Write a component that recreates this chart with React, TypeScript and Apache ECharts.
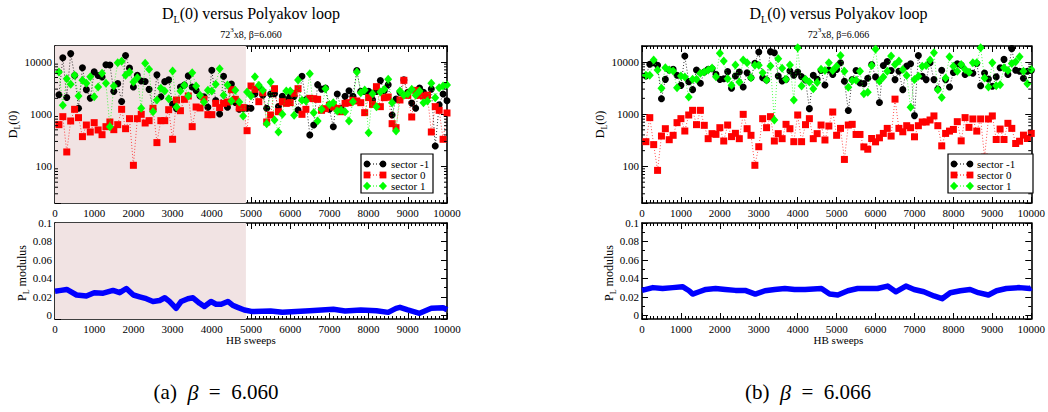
import React, { useEffect, useRef } from "react";
import * as echarts from "echarts";

// ---------- data ----------
const SWEEPS: number[] = Array.from({ length: 100 }, (_, i) => (i + 1) * 100);

// beta = 6.060
const SECTOR_M1_A = [
  2340, 11900, 2080, 14300, 5450, 1290, 7660, 2930, 2020, 6400,
  5450, 5100, 8750, 8650, 2720, 3820, 1740, 13200, 7550, 3300,
  5530, 4300, 4200, 2970, 1240, 5620, 2140, 4170, 4500, 1550,
  1260, 3300, 3600, 5370, 3300, 2840, 2210, 2140, 1350, 6900,
  1820, 1000, 5300, 1350, 3770, 1670, 1240, 1280, 1300, 1290,
  2420, 3300, 2300, 1290, 2420, 2440, 1400, 2180, 1880, 2180,
  2180, 1200, 5300, 1880, 400, 620, 3650, 3000, 3150, 1240,
  574, 2420, 1290, 2180, 2800, 2180, 6800, 2720, 2720, 2720,
  1880, 2720, 4360, 2800, 3650, 960, 1930, 2600, 4500, 2600,
  1620, 1290, 3150, 2600, 2180, 3000, 245, 1500, 2420, 1800,
];
const SECTOR_0_A = [
  628, 893, 189, 738, 1233, 855, 371, 618, 455, 686,
  497, 404, 575, 706, 504, 628, 1233, 526, 818, 105,
  818, 989, 676, 749, 1288, 285, 749, 749, 1214, 330,
  1858, 1161, 1914, 2217, 575, 1366, 1310, 1914, 975, 975,
  1604, 1330, 1604, 1700, 2930, 1914, 1310, 1330, 482, 3440,
  2970, 1727, 2570, 706, 961, 3060, 1110, 1727, 1604, 1652,
  2490, 3060, 989, 1233, 2000, 1970, 1914, 1180, 1270, 1470,
  1366, 1288, 1110, 1604, 1652, 1833, 1780, 1652, 1065, 2060,
  1530, 3340, 1387, 2060, 2120, 656, 551, 1860, 4420, 2280,
  880, 2840, 2280, 2210, 2300, 455, 1387, 1180, 330, 1050,
];
const SECTOR_1_A = [
  6370, 1470, 4750, 3700, 5510, 2220, 4420, 3870, 5190, 2150,
  3300, 6010, 3870, 575, 3440, 9600, 10200, 5510, 6370, 4100,
  4960, 1288, 9330, 7160, 1110, 1858, 3110, 2760, 1970, 6650,
  1366, 2760, 3540, 2220, 6180, 3440, 2300, 1700, 2840, 2760,
  3700, 7380, 2280, 3600, 1780, 2840, 1700, 918, 2640, 2220,
  5190, 3540, 2840, 656, 4100, 771, 455, 989, 2760, 2760,
  946, 4480, 1833, 1780, 5920, 1065, 738, 1233, 3060, 1530,
  1652, 1145, 1180, 1110, 738, 1727, 6370, 2570, 2880, 442,
  2460, 1387, 2640, 2970, 4610, 1652, 475, 2760, 2300, 2460,
  2970, 2280, 2760, 1652, 1780, 3870, 2060, 3200, 3440, 3600,
];
const PL_SWEEPS_A = [0, 150, 300, 550, 800, 1000, 1230, 1480, 1650, 1820, 2000, 2160, 2330, 2500, 2670, 2800, 2920, 3090, 3220, 3390, 3520, 3690, 3810, 3980, 4110, 4240, 4410, 4530, 4660, 4830, 5040, 5500, 5800, 6500, 7100, 7400, 7800, 8200, 8500, 8700, 8800, 9000, 9300, 9600, 9900, 10000];
const PL_MOD_A = [0.026, 0.027, 0.028, 0.022, 0.021, 0.0245, 0.024, 0.027, 0.0245, 0.029, 0.022, 0.02, 0.018, 0.015, 0.016, 0.019, 0.015, 0.0075, 0.015, 0.018, 0.019, 0.013, 0.0095, 0.015, 0.012, 0.012, 0.015, 0.011, 0.0086, 0.0058, 0.004, 0.0047, 0.0032, 0.005, 0.0065, 0.0047, 0.0058, 0.005, 0.0032, 0.0075, 0.0086, 0.0058, 0.0022, 0.0076, 0.0083, 0.006];

// beta = 6.066
const SECTOR_M1_B = [
  5340, 8930, 9600, 8550, 1970, 4610, 6950, 7160, 5510, 3540,
  12900, 4170, 2930, 6950, 3870, 6370, 7160, 7380, 5750, 4610,
  4750, 6470, 3110, 5340, 6370, 3300, 6180, 4960, 9330, 15350,
  4960, 4480, 15600, 14900, 5340, 4290, 4610, 6650, 5510, 6370,
  5190, 4480, 1270, 5510, 4610, 6830, 3600, 6950, 5700, 7110,
  9570, 4240, 1170, 4560, 6810, 3940, 3820, 4840, 8890, 5140,
  1670, 8490, 10100, 6810, 4560, 6600, 2930, 8250, 9150, 935,
  13200, 5290, 4560, 9570, 4560, 3010, 6900, 4560, 3300, 6220,
  9150, 8620, 5700, 6320, 6040, 9290, 3490, 6120, 4700, 3400,
  5140, 7660, 11100, 5700, 17800, 6900, 6600, 4840, 6600, 6810,
];
const SECTOR_0_B = [
  297, 855, 261, 84, 381, 526, 324, 393, 686, 818,
  475, 961, 1180, 628, 1180, 610, 339, 423, 410, 550,
  306, 618, 371, 429, 339, 989, 526, 393, 105, 238,
  818, 550, 893, 306, 423, 339, 637, 526, 297, 961,
  297, 628, 818, 339, 423, 618, 320, 592, 1096, 393,
  533, 136, 618, 637, 408, 408, 236, 213, 342, 295,
  352, 427, 533, 380, 1930, 533, 459, 600, 549, 368,
  600, 706, 706, 771, 922, 600, 247, 427, 473, 509,
  716, 308, 856, 557, 807, 473, 807, 150, 807, 922,
  327, 518, 327, 666, 533, 274, 303, 396, 342, 427,
];
const SECTOR_1_B = [
  5510, 5510, 10800, 6950, 3110, 7700, 6950, 6650, 3200, 5340,
  5120, 2120, 4610, 4610, 6010, 6370, 6950, 7600, 5190, 14500,
  10300, 4750, 3540, 8670, 4100, 10800, 9600, 4960, 8550, 8550,
  6180, 4480, 8300, 771, 11450, 7490, 4610, 8670, 1860, 18600,
  3440, 4610, 4100, 3060, 4010, 7160, 6830, 9600, 6830, 8250,
  13200, 6600, 3240, 4370, 4430, 6600, 2450, 2600, 8490, 17300,
  4240, 5140, 6600, 12900, 8890, 10300, 7110, 5450, 1355, 4560,
  5290, 8250, 8490, 10800, 14900, 2930, 2080, 4900, 12500, 8250,
  6600, 8890, 7110, 6320, 9570, 9570, 18600, 4900, 3300, 9570,
  3490, 3650, 7660, 6810, 9290, 10000, 12500, 6600, 3820, 7110,
];
const PL_SWEEPS_B = [0, 280, 530, 790, 1040, 1210, 1300, 1470, 1640, 1890, 2140, 2400, 2650, 2910, 3160, 3410, 3670, 3920, 4190, 4610, 4820, 5030, 5290, 5540, 5800, 6050, 6310, 6520, 6780, 6990, 7240, 7500, 7710, 7920, 8180, 8430, 8640, 8900, 9110, 9360, 9700, 9960, 10000];
const PL_MOD_B = [0.027, 0.03, 0.029, 0.03, 0.031, 0.0266, 0.023, 0.0255, 0.028, 0.029, 0.028, 0.027, 0.027, 0.023, 0.0266, 0.028, 0.029, 0.028, 0.028, 0.029, 0.023, 0.022, 0.0266, 0.029, 0.029, 0.029, 0.0317, 0.0255, 0.0317, 0.028, 0.0255, 0.021, 0.018, 0.0245, 0.0266, 0.028, 0.0245, 0.022, 0.0266, 0.029, 0.03, 0.029, 0.03];

const THERMALIZATION_END_A = 4870;
const LOG_MINOR_TICKS = [30, 40, 50, 60, 70, 80, 90, 200, 300, 400, 500, 600, 700, 800, 900, 2000, 3000, 4000, 5000, 6000, 7000, 8000, 9000];
const SERIES_NAMES = ["sector -1", "sector 0", "sector 1"];
const TITLES = ["72{sup|3}x8, \u03b2=6.060", "72{sup|3}x8, \u03b2=6.066"];
const CAPTIONS = ["(a)  {it|\u03b2}  =  6.060", "(b)  {it|\u03b2}  =  6.066"];

// ---------- layout ----------
const FONT = "Liberation Serif";
const TOP_Y = 46, TOP_H = 157, BOT_Y = 223, BOT_H = 96;
const SHADE = "#f1e3e3";
const PANELS = [
  { left: 55, width: 392, shadeEnd: THERMALIZATION_END_A, black: SECTOR_M1_A, red: SECTOR_0_A, green: SECTOR_1_A, plx: PL_SWEEPS_A, ply: PL_MOD_A, capX: 216, legend: { x: 361, w: 72, sym1: 367, sym2: 383, text: 391 } },
  { left: 642, width: 393, shadeEnd: 0, black: SECTOR_M1_B, red: SECTOR_0_B, green: SECTOR_1_B, plx: PL_SWEEPS_B, ply: PL_MOD_B, capX: 808, legend: { x: 948, w: 85, sym1: 954, sym2: 970, text: 977 } },
];
const COLORS = ["#000000", "#ff0000", "#00ff00"];

function buildOption() {
  const grid: any[] = [];
  const xAxis: any[] = [];
  const yAxis: any[] = [];
  const series: any[] = [];
  const graphic: any[] = [];

  const axisLine = { show: true, onZero: false, lineStyle: { color: "#000", width: 1.6 } };
  const tickStyle = { color: "#000", width: 1 };
  const labelStyle = { fontFamily: FONT, fontSize: 11, color: "#000" };

  PANELS.forEach((p, pi) => {
    const gTop = pi * 2;
    const gBot = pi * 2 + 1;
    grid.push({ left: p.left, top: TOP_Y, width: p.width, height: TOP_H });
    grid.push({ left: p.left, top: BOT_Y, width: p.width, height: BOT_H });

    [gTop, gBot].forEach((g) => {
      const xBase = {
        type: "value", gridIndex: g, min: 0, max: 10000, interval: 1000,
        axisLine, splitLine: { show: false },
        axisTick: { show: true, inside: true, length: 6, lineStyle: tickStyle },
        minorTick: { show: true, splitNumber: 10, length: 3, lineStyle: tickStyle },
      };
      xAxis.push({ ...xBase, position: "bottom", axisLabel: { ...labelStyle, margin: 4, formatter: (v: number) => String(Math.round(v)) } });
      xAxis.push({ ...xBase, position: "top", axisLabel: { show: false } });
    });

    // log axis (top grid)
    const logBase = {
      type: "log", logBase: 10, gridIndex: gTop, min: 20, max: 20000,
      axisLine, splitLine: { show: false },
      axisTick: { show: true, inside: true, length: 6, lineStyle: tickStyle },
      minorTick: { show: false },
    };
    yAxis.push({
      ...logBase, position: "left",
      axisLabel: {
        ...labelStyle, margin: 3,
        formatter: (v: number) => {
          const l = Math.log10(v);
          return Math.abs(l - Math.round(l)) < 1e-6 && v > 50 && v < 15000 ? String(Math.round(v)) : "";
        },
      },
    });
    yAxis.push({ ...logBase, position: "right", axisLabel: { show: false } });

    // P_L axis (bottom grid)
    const plBase = {
      type: "value", gridIndex: gBot, min: -0.004, max: 0.1, splitNumber: 5,
      axisLine, splitLine: { show: false },
      axisTick: { show: true, inside: true, length: 6, lineStyle: tickStyle },
      minorTick: { show: true, splitNumber: 2, length: 3, lineStyle: tickStyle },
    };
    yAxis.push({
      ...plBase, position: "left",
      axisLabel: {
        ...labelStyle, margin: 3,
        formatter: (v: number) => (v < -1e-9 ? "" : String(+v.toFixed(3))),
      },
    });
    yAxis.push({ ...plBase, position: "right", axisLabel: { show: false } });

    const xi = gTop * 2, yi = gTop * 2;
    const sets = [p.black, p.red, p.green];
    const symbols = ["circle", "rect", "diamond"];
    const sizes: any[] = [7, 7, [8, 9]];
    sets.forEach((arr, si) => {
      const s: any = {
        type: "line", name: SERIES_NAMES[si], xAxisIndex: xi, yAxisIndex: yi,
        data: SWEEPS.map((x, i) => [x, arr[i]]),
        symbol: symbols[si], symbolSize: sizes[si], showSymbol: true,
        itemStyle: { color: COLORS[si] },
        lineStyle: { color: COLORS[si], width: 1, type: [1, 2], opacity: si === 0 ? 0.8 : 0.7 },
        z: 3 + si,
      };
      if (si === 0 && p.shadeEnd > 0) {
        s.markArea = { silent: true, z: 1, itemStyle: { color: SHADE }, data: [[{ xAxis: 0 }, { xAxis: p.shadeEnd }]] };
      }
      series.push(s);
    });

    // log minor ticks on left and right edges
    series.push({
      type: "custom", xAxisIndex: xi, yAxisIndex: yi, silent: true, clip: false, z: 10,
      data: LOG_MINOR_TICKS.map((v) => [0, v]),
      encode: { x: 0, y: 1 },
      renderItem: (params: any, api: any) => {
        const y = api.coord([0, api.value(1)])[1];
        const cs = params.coordSys;
        return {
          type: "group",
          children: [
            { type: "line", shape: { x1: cs.x, y1: y, x2: cs.x + 3, y2: y }, style: { stroke: "#000", lineWidth: 1 } },
            { type: "line", shape: { x1: cs.x + cs.width, y1: y, x2: cs.x + cs.width - 3, y2: y }, style: { stroke: "#000", lineWidth: 1 } },
          ],
        };
      },
    });

    // Polyakov loop modulus
    const pl: any = {
      type: "line", name: "P_L modulus", xAxisIndex: gBot * 2, yAxisIndex: gBot * 2,
      data: p.plx.map((x, i) => [x, p.ply[i]]),
      showSymbol: false, symbol: "none",
      lineStyle: { color: "#0000ff", width: 5.5, join: "round" },
      z: 3,
    };
    if (p.shadeEnd > 0) {
      pl.markArea = { silent: true, z: 1, itemStyle: { color: SHADE }, data: [[{ xAxis: 0 }, { xAxis: p.shadeEnd }]] };
    }
    series.push(pl);

    // ---- texts ----
    const cx = p.left + p.width / 2;
    graphic.push({
      type: "text", x: cx, y: 13,
      style: {
        text: "D{sub|L}(0) versus Polyakov loop", fontFamily: FONT, fontSize: 16, fill: "#000",
        align: "center", verticalAlign: "middle",
        rich: { sub: { fontFamily: FONT, fontSize: 10, padding: [12, 0, 0, 0] } },
      },
    });
    graphic.push({
      type: "text", x: cx, y: 34,
      style: {
        text: TITLES[pi], fontFamily: FONT, fontSize: 10, fill: "#000",
        align: "center", verticalAlign: "middle",
        rich: { sup: { fontFamily: FONT, fontSize: 7, padding: [0, 0, 8, 0] } },
      },
    });
    graphic.push({
      type: "text", x: p.left - 42, y: TOP_Y + TOP_H / 2, rotation: Math.PI / 2,
      style: {
        text: "D{sub|L}(0)", fontFamily: FONT, fontSize: 12, fill: "#000",
        align: "center", verticalAlign: "middle",
        rich: { sub: { fontFamily: FONT, fontSize: 8, padding: [8, 0, 0, 0] } },
      },
    });
    graphic.push({
      type: "text", x: p.left - 33, y: BOT_Y + BOT_H / 2 + 2, rotation: Math.PI / 2,
      style: {
        text: "P{sub|L} modulus", fontFamily: FONT, fontSize: 12, fill: "#000",
        align: "center", verticalAlign: "middle",
        rich: { sub: { fontFamily: FONT, fontSize: 8, padding: [8, 0, 0, 0] } },
      },
    });
    graphic.push({
      type: "text", x: cx, y: 340,
      style: { text: "HB sweeps", fontFamily: FONT, fontSize: 11, fill: "#000", align: "center", verticalAlign: "middle" },
    });
    graphic.push({
      type: "text", x: p.capX, y: 392,
      style: {
        text: CAPTIONS[pi], fontFamily: FONT, fontSize: 21, fill: "#000",
        align: "center", verticalAlign: "middle",
        rich: { it: { fontFamily: FONT, fontSize: 22, fontStyle: "italic" } },
      },
    });

    // ---- legend ----
    const L = p.legend;
    graphic.push({
      type: "rect", shape: { x: L.x, y: 154, width: L.w, height: 39 },
      style: { fill: "#fff", stroke: "#000", lineWidth: 1.2 }, z: 100,
    });
    const rows = [164, 175, 186];
    rows.forEach((ry, ri) => {
      const c = COLORS[ri];
      graphic.push({ type: "line", shape: { x1: L.sym1, y1: ry, x2: L.sym2, y2: ry }, style: { stroke: c, lineWidth: 1, lineDash: [1, 2] }, z: 101 });
      [L.sym1, L.sym2].forEach((sx) => {
        if (ri === 0) graphic.push({ type: "circle", shape: { cx: sx, cy: ry, r: 3.4 }, style: { fill: c }, z: 102 });
        else if (ri === 1) graphic.push({ type: "rect", shape: { x: sx - 3.4, y: ry - 3.4, width: 6.8, height: 6.8 }, style: { fill: c }, z: 102 });
        else graphic.push({ type: "polygon", shape: { points: [[sx, ry - 4.3], [sx + 4, ry], [sx, ry + 4.3], [sx - 4, ry]] }, style: { fill: c }, z: 102 });
      });
      graphic.push({
        type: "text", x: L.text, y: ry, z: 102,
        style: { text: SERIES_NAMES[ri], fontFamily: FONT, fontSize: 11, fill: "#000", align: "left", verticalAlign: "middle" },
      });
    });
  });

  return {
    animation: false,
    backgroundColor: "#ffffff",
    textStyle: { fontFamily: FONT },
    grid, xAxis, yAxis, series, graphic,
  };
}

export default function App() {
  const ref = useRef<HTMLDivElement>(null);
  useEffect(() => {
    document.body.style.margin = "0";
    const chart = echarts.init(ref.current as HTMLDivElement, null, { renderer: "svg" });
    chart.setOption(buildOption() as any);
    return () => chart.dispose();
  }, []);
  return <div ref={ref} style={{ width: 1048, height: 412 }} />;
}
